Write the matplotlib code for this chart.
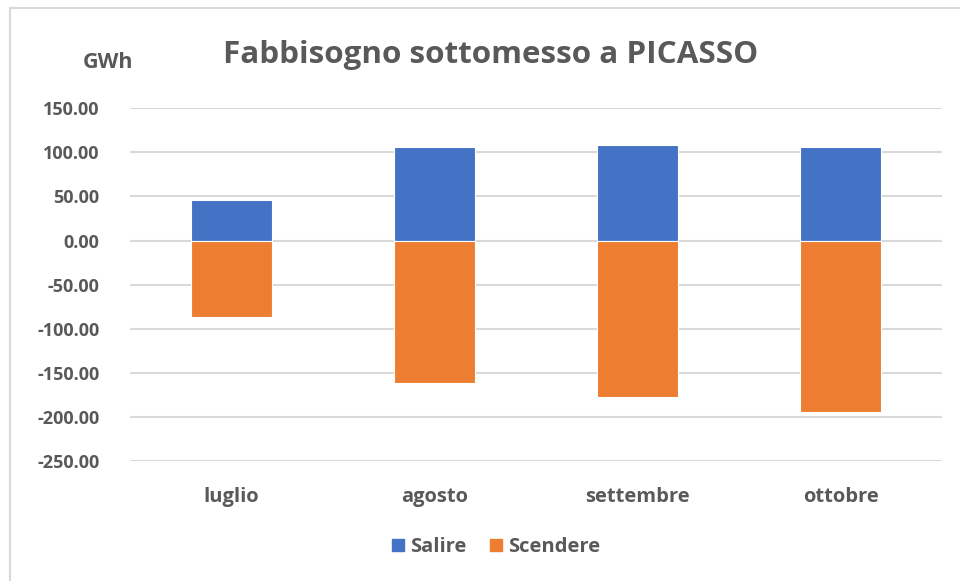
import matplotlib.pyplot as plt
from matplotlib.lines import Line2D
from matplotlib.patches import Patch

mesi = ['luglio', 'agosto', 'settembre', 'ottobre']
salire = [45.5, 105.8, 108.0, 105.8]
scendere = [-87.0, -162.0, -177.0, -194.5]
yticks = [150, 100, 50, 0, -50, -100, -150, -200, -250]

blu = '#4472C4'
arancio = '#ED7D31'
grigio = '#595959'

plt.rcParams['font.family'] = ['Open Sans', 'DejaVu Sans']
plt.rcParams['font.weight'] = 'bold'

fig = plt.figure(figsize=(9.6, 5.81), dpi=100)
ax = fig.add_axes([130 / 960, 1 - 461 / 581, 812 / 960, (461 - 108.3) / 581])

x = list(range(len(mesi)))
ax.bar(x, salire, width=0.4, color=blu, edgecolor='white', linewidth=0.8, label='Salire', zorder=3)
ax.bar(x, scendere, width=0.4, color=arancio, edgecolor='white', linewidth=0.8, label='Scendere', zorder=3)

ax.set_xlim(-0.5, len(mesi) - 0.5)
ax.set_ylim(-250, 150)
ax.set_yticks(yticks)
ax.set_yticklabels([f'{v:.2f}' for v in yticks])
ax.set_xticks(x)
ax.set_xticklabels(mesi)
ax.yaxis.grid(True, color='#D9D9D9', linewidth=1.5, zorder=0)
for s in ax.spines.values():
    s.set_visible(False)
ax.tick_params(axis='both', length=0, colors=grigio)
ax.tick_params(axis='y', pad=22, labelsize=13)
ax.tick_params(axis='x', pad=19, labelsize=14.5)

fig.text(491 / 960, 1 - 55 / 581, 'Fabbisogno sottomesso a PICASSO', ha='center', va='center',
         fontsize=22.6, color=grigio, fontweight='bold')
fig.text(108 / 960, 1 - 62 / 581, 'GWh', ha='center', va='center', fontsize=15.5, color=grigio,
         fontweight='bold')

handles = [Patch(color=blu), Patch(color=arancio)]
fig.legend(handles, ['Salire', 'Scendere'], loc='center', bbox_to_anchor=(496 / 960, 1 - 547 / 581),
           ncol=2, frameon=False, fontsize=14.5, labelcolor=grigio, handlelength=0.6, handleheight=0.6,
           handletextpad=0.3, columnspacing=1.2)

# bordo del riquadro
fig.add_artist(Line2D([10 / 960, 10 / 960], [0, 1 - 8 / 581], color='#D9D9D9', linewidth=1.5))
fig.add_artist(Line2D([10 / 960, 1], [1 - 8 / 581, 1 - 8 / 581], color='#D9D9D9', linewidth=1.5))

fig.savefig('out.png', dpi=100)
